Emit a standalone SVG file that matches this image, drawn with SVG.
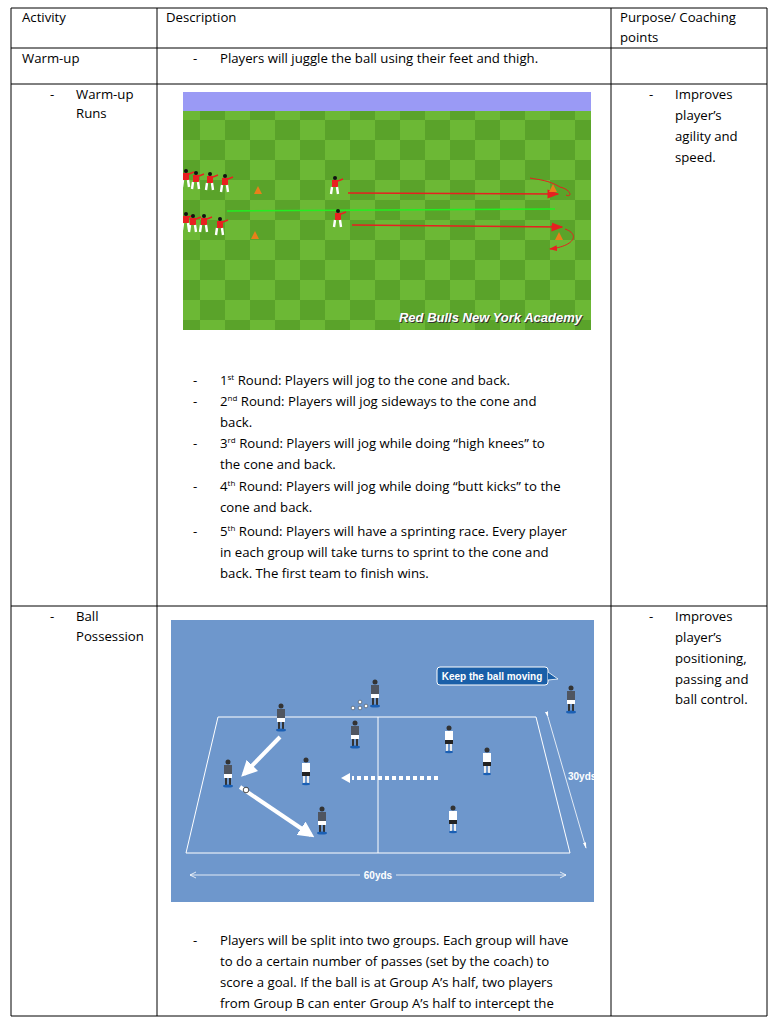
<svg xmlns="http://www.w3.org/2000/svg" width="782" height="1024" viewBox="0 0 782 1024">
<style>
text{font-family:"Open Sans","Liberation Sans",sans-serif;font-size:13.2px;fill:#000}
.g{stroke:#000;stroke-width:1;fill:none}
.lbl{font-family:"Liberation Sans",sans-serif;font-weight:bold;fill:#fff;font-size:10px}
.rp{fill:#e82020}.wp{fill:#f4f4f4}.dp{fill:#4f5560}
</style>
<defs>
<pattern id="grass" width="50" height="40" patternUnits="userSpaceOnUse">
<rect width="50" height="40" fill="#5aa32a"/><rect width="25" height="20" fill="#6cb835"/><rect x="25" y="20" width="25" height="20" fill="#6cb835"/>
</pattern>
<marker id="ra" markerWidth="8" markerHeight="8" refX="7" refY="4" orient="auto"><path d="M0,1 L8,4 L0,7 z" fill="#e62020"/></marker>
<marker id="wa" markerWidth="4" markerHeight="4" refX="3" refY="2" orient="auto"><path d="M0,0 L4,2 L0,4 z" fill="#fff"/></marker>
<marker id="ta" markerWidth="8" markerHeight="8" refX="7" refY="4" orient="auto"><path d="M0,2 L8,4 L0,6" fill="#fff"/></marker>
<g id="rpl"><circle cx="0" cy="-9" r="2" fill="#111"/><rect x="-3" y="-7" width="6" height="7" class="rp"/><path d="M-3,0 L-4,7 M2,0 L3,7" stroke="#fff" stroke-width="2.4"/><path d="M3,-6 l5,-2" stroke="#e82020" stroke-width="1.5"/></g>
<g id="dpl"><circle cx="0" cy="-12" r="2.5" fill="#333"/><rect x="-4" y="-9" width="8" height="9" class="dp"/><rect x="-4" y="0" width="8" height="4" fill="#fff"/><path d="M-2,4 v7 M2,4 v7" stroke="#333" stroke-width="2"/><ellipse cx="0" cy="12" rx="5" ry="1.5" fill="#1a5fb4"/></g>
<g id="wpl"><circle cx="0" cy="-12" r="2.5" fill="#333"/><rect x="-4" y="-9" width="8" height="9" fill="#fff"/><rect x="-4" y="0" width="8" height="4" fill="#222"/><path d="M-2,4 v7 M2,4 v7" stroke="#eee" stroke-width="2"/><ellipse cx="0" cy="12" rx="4" ry="1.2" fill="#1a5fb4"/></g>
</defs>
<rect width="782" height="1024" fill="#fff"/>
<g id="table" class="g">
<path d="M11,8 H767 M11,48 H767 M11,84 H767 M11,606 H767 M11,8 V1016 M157,8 V1016 M611,8 V1016 M767,8 V1016 M11,1016 H767"/>
</g>
<g id="header">
<text x="22" y="22">Activity</text>
<text x="166" y="22">Description</text>
<text x="620" y="22">Purpose/ Coaching</text>
<text x="620" y="42">points</text>
</g>
<g id="row-warmup">
<text x="22" y="63">Warm-up</text>
<text x="193" y="63">-</text><text x="220" y="63">Players will juggle the ball using their feet and thigh.</text>
</g>
<g id="row-runs">
<text x="50" y="99">-</text><text x="76" y="99">Warm-up</text><text x="76" y="118">Runs</text>
<text x="649" y="99">-</text><text x="675" y="99">Improves</text><text x="675" y="120">player’s</text><text x="675" y="141">agility and</text><text x="675" y="162">speed.</text>
</g>
<g id="image1">
<rect x="183" y="92" width="408" height="238" fill="url(#grass)"/>
<rect x="183" y="92" width="408" height="19" fill="#9a9af5"/>
<g id="connectors1">
<path d="M227,211 L555,209" stroke="#22ee22" stroke-width="1.5"/>
<path d="M348,193 L558,194" stroke="#e62020" stroke-width="1.5" marker-end="url(#ra)"/>
<path d="M352,225 L562,227" stroke="#e62020" stroke-width="1.5" marker-end="url(#ra)"/>
<path d="M560,187 C572,190 572,198 566,195 M560,187 C548,180 540,180 530,178" stroke="#e62020" fill="none" stroke-width="1"/>
<path d="M565,229 C580,234 575,246 550,249" stroke="#e62020" fill="none" stroke-width="1" marker-end="url(#ra)"/>
</g>
<path d="M254,194 l4,-8 l4,8z M251,239 l4,-8 l4,8z M549,192 l4,-8 l4,8z M555,240 l4,-8 l4,8z" fill="#e8801a"/>
<use href="#rpl" x="186" y="180"/><use href="#rpl" x="196" y="182"/><use href="#rpl" x="210" y="183"/><use href="#rpl" x="225" y="185"/>
<use href="#rpl" x="186" y="223"/><use href="#rpl" x="193" y="225"/><use href="#rpl" x="204" y="225"/><use href="#rpl" x="220" y="228"/>
<use href="#rpl" x="335" y="187"/><use href="#rpl" x="338" y="220"/>
<text x="582" y="322" text-anchor="end" style="font-family:'Liberation Sans',sans-serif;font-weight:bold;font-style:italic;font-size:13px;fill:#333" dx="1" dy="1">Red Bulls New York Academy</text>
<text x="582" y="322" text-anchor="end" style="font-family:'Liberation Sans',sans-serif;font-weight:bold;font-style:italic;font-size:13px;fill:#fff">Red Bulls New York Academy</text>
</g>
<g id="runs-text">
<text x="193" y="385">-</text><text x="220" y="385">1<tspan font-size="8" dy="-5">st</tspan><tspan dy="5"> Round: Players will jog to the cone and back.</tspan></text>
<text x="193" y="406">-</text><text x="220" y="406">2<tspan font-size="8" dy="-5">nd</tspan><tspan dy="5"> Round: Players will jog sideways to the cone and</tspan></text>
<text x="220" y="427">back.</text>
<text x="193" y="448">-</text><text x="220" y="448">3<tspan font-size="8" dy="-5">rd</tspan><tspan dy="5"> Round: Players will jog while doing “high knees” to</tspan></text>
<text x="220" y="469">the cone and back.</text>
<text x="193" y="491">-</text><text x="220" y="491">4<tspan font-size="8" dy="-5">th</tspan><tspan dy="5"> Round: Players will jog while doing “butt kicks” to the</tspan></text>
<text x="220" y="512">cone and back.</text>
<text x="193" y="536">-</text><text x="220" y="536">5<tspan font-size="8" dy="-5">th</tspan><tspan dy="5"> Round: Players will have a sprinting race. Every player</tspan></text>
<text x="220" y="557">in each group will take turns to sprint to the cone and</text>
<text x="220" y="578">back. The first team to finish wins.</text>
</g>
<g id="row-possession">
<text x="50" y="621">-</text><text x="76" y="621">Ball</text><text x="76" y="641">Possession</text>
<text x="649" y="621">-</text><text x="675" y="621">Improves</text><text x="675" y="642">player’s</text><text x="675" y="663">positioning,</text><text x="675" y="684">passing and</text><text x="675" y="704">ball control.</text>
</g>
<g id="image2">
<rect x="171" y="620" width="423" height="282" fill="#6e97cc"/>
<path d="M218,717 H536 L570,853 H186 Z M378,717 V853" stroke="#fff" stroke-width="1" fill="none"/>
<g id="connectors2">
<path d="M280,737 L244,774" stroke="#fff" stroke-width="4" marker-end="url(#wa)"/>
<path d="M240,787 L311,835" stroke="#fff" stroke-width="4" marker-end="url(#wa)"/>
<path d="M438,778 L352,778" stroke="#fff" stroke-width="4" stroke-dasharray="4,3"/>
<path d="M350,773 L341,778 L350,783z" fill="#fff"/>
<path d="M190,875 H360 M396,875 H566" stroke="#fff" stroke-width="0.8"/>
<path d="M196,872 L190,875 L196,878 M560,872 L566,875 L560,878" stroke="#fff" stroke-width="0.8" fill="none"/>
<path d="M548,717 L586,848" stroke="#fff" stroke-width="0.8" marker-start="url(#ta)" marker-end="url(#ta)"/>
</g>
<text x="378" y="879" text-anchor="middle" class="lbl">60yds</text>
<text x="568" y="780" class="lbl">30yds</text>
<rect x="437" y="667" width="111" height="18" rx="3" fill="#1a5fa8" stroke="#fff" stroke-width="1"/>
<path d="M548,672 L558,679 L548,680" fill="#1a5fa8" stroke="#fff" stroke-width="0.8"/>
<text x="492" y="680" text-anchor="middle" class="lbl">Keep the ball moving</text>
<use href="#dpl" x="375" y="694"/><use href="#dpl" x="571" y="700"/>
<circle cx="353" cy="708" r="1.8" fill="#fff" stroke="#333" stroke-width="0.5"/><circle cx="360" cy="708" r="1.8" fill="#fff" stroke="#333" stroke-width="0.5"/><circle cx="366" cy="706" r="1.8" fill="#fff" stroke="#333" stroke-width="0.5"/><circle cx="360" cy="702" r="1.8" fill="#fff" stroke="#333" stroke-width="0.5"/>
<use href="#dpl" x="281" y="718"/><use href="#dpl" x="355" y="735"/><use href="#dpl" x="228" y="774"/><use href="#dpl" x="322" y="821"/>
<use href="#wpl" x="306" y="772"/><use href="#wpl" x="449" y="740"/><use href="#wpl" x="487" y="762"/><use href="#wpl" x="453" y="820"/>
<circle cx="246" cy="790" r="2.8" fill="#fff" stroke="#222" stroke-width="0.8"/>
</g>
<g id="possession-text">
<text x="193" y="945">-</text><text x="220" y="945">Players will be split into two groups. Each group will have</text>
<text x="220" y="966">to do a certain number of passes (set by the coach) to</text>
<text x="220" y="987">score a goal. If the ball is at Group A’s half, two players</text>
<text x="220" y="1008">from Group B can enter Group A’s half to intercept the</text>
</g>
</svg>
